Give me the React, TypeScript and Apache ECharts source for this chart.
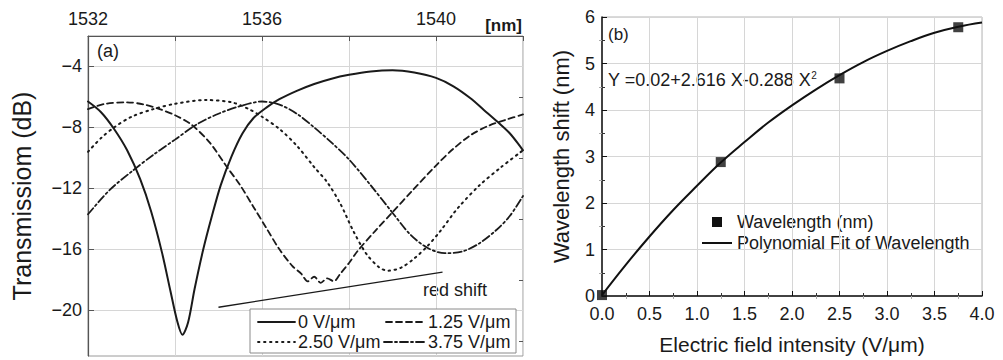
import React, { useEffect, useRef } from "react";
import * as echarts from "echarts";

// Panel (a): transmission spectra for four applied field strengths
const nm0 = [1532.0, 1532.3, 1532.6, 1532.9, 1533.2, 1533.45, 1533.7, 1533.9, 1534.05, 1534.17, 1534.3, 1534.45, 1534.65, 1534.85, 1535.05, 1535.3, 1535.55, 1535.8, 1536.1, 1536.4, 1536.8, 1537.2, 1537.6, 1538.0, 1538.5, 1539.0, 1539.5, 1540.0, 1540.4, 1540.8, 1541.1, 1541.4, 1541.7, 1542.0];
const db0 = [-6.3, -7.0, -8.1, -9.5, -11.4, -13.5, -16.2, -18.8, -20.7, -21.6, -20.8, -18.6, -16.0, -13.8, -11.8, -9.9, -8.4, -7.4, -6.7, -6.15, -5.6, -5.15, -4.8, -4.55, -4.33, -4.25, -4.4, -4.75, -5.3, -6.1, -6.85, -7.6, -8.4, -9.5];

const nm125 = [1532.0, 1532.4, 1532.88, 1533.3, 1533.65, 1534.0, 1534.37, 1534.8, 1535.17, 1535.5, 1535.8, 1536.1, 1536.4, 1536.7, 1536.9, 1537.05, 1537.2, 1537.35, 1537.5, 1537.65, 1537.8, 1538.0, 1538.2, 1538.6, 1539.02, 1539.44, 1540.0, 1540.4, 1540.8, 1541.2, 1541.6, 1542.0];
const db125 = [-6.8, -6.45, -6.35, -6.5, -6.8, -7.2, -7.8, -9.0, -10.5, -11.8, -13.2, -14.6, -16.0, -17.1, -17.6, -18.1, -17.8, -18.2, -17.9, -18.1, -17.6, -16.9, -16.1, -14.8, -13.5, -12.2, -10.5, -9.4, -8.5, -7.9, -7.5, -7.15];

const nm250 = [1532.0, 1532.3, 1532.6, 1533.0, 1533.5, 1534.0, 1534.7, 1535.3, 1535.7, 1536.0, 1536.4, 1536.8, 1537.2, 1537.5, 1537.8, 1538.1, 1538.4, 1538.7, 1538.9, 1539.2, 1539.5, 1539.8, 1540.1, 1540.5, 1541.0, 1541.5, 1542.0];
const db250 = [-9.6, -8.7, -8.0, -7.3, -6.8, -6.45, -6.2, -6.35, -6.8, -7.3, -8.1, -9.2, -10.6, -11.6, -13.0, -14.8, -16.3, -17.2, -17.4, -17.2, -16.6, -15.8, -14.8, -13.3, -11.8, -10.6, -9.5];

const nm375 = [1532.0, 1532.5, 1533.0, 1533.5, 1534.0, 1534.5, 1535.0, 1535.5, 1536.0, 1536.4, 1536.8, 1537.2, 1537.6, 1538.0, 1538.5, 1539.0, 1539.4, 1539.8, 1540.2, 1540.6, 1541.0, 1541.4, 1541.7, 1542.0];
const db375 = [-13.7, -12.1, -10.9, -9.8, -8.8, -7.8, -7.1, -6.6, -6.3, -6.5, -7.1, -8.0, -9.0, -10.1, -11.8, -13.6, -15.0, -15.9, -16.25, -16.15, -15.6, -14.7, -13.8, -12.5];

const nmTicks = [1532, 1536, 1540];
const dbMajor = [-20, -16, -12, -8, -4];
const dbMinor = [-22, -18, -14, -10, -6];

// Panel (b): measured shift and its quadratic fit
const fieldPts = [0, 1.25, 2.5, 3.75];
const shiftPts = [0.02, 2.88, 4.68, 5.78];
const fitField = [0, 0.25, 0.5, 0.75, 1, 1.25, 1.5, 1.75, 2, 2.25, 2.5, 2.75, 3, 3.25, 3.5, 3.75, 4];
const fitShift = [0.02, 0.67, 1.28, 1.85, 2.37, 2.87, 3.31, 3.73, 4.1, 4.44, 4.75, 5.03, 5.27, 5.48, 5.66, 5.79, 5.88];

const FONT = "'Liberation Sans', Arial, sans-serif";
const INK = "#1a1a1a";
const GRID = "#d6d6d6";

const DASH = [6, 4];
const DOT = [1.5, 4.5];
const DASH_DOT = [8, 3, 2, 3];

const zip = (a: number[], b: number[]) => a.map((v, i) => [v, b[i]]);

export default function App() {
  const ref = useRef<HTMLDivElement>(null);

  useEffect(() => {
    if (!ref.current) return;
    const chart = echarts.init(ref.current, undefined, { renderer: "svg" });

    const curve = (name: string, data: number[][], type: any, width = 1.8) => ({
      name,
      type: "line",
      xAxisIndex: 0,
      yAxisIndex: 0,
      data,
      smooth: 0.3,
      showSymbol: false,
      symbol: "none",
      lineStyle: { color: INK, width, type, cap: "round" },
    });

    const legendRow = (y: number, items: { x1: number; x2: number; dash: any; text: string; tx: number }[]) =>
      items.flatMap((it) => [
        {
          type: "line",
          z: 12,
          shape: { x1: it.x1, y1: y, x2: it.x2, y2: y },
          style: { stroke: INK, lineWidth: 1.8, lineDash: it.dash, lineCap: "round" },
        },
        {
          type: "text",
          z: 12,
          x: it.tx,
          y,
          style: { text: it.text, font: `18px ${FONT}`, fill: INK, textVerticalAlign: "middle" },
        },
      ]);

    chart.setOption({
      animation: false,
      backgroundColor: "#ffffff",
      textStyle: { fontFamily: FONT },
      grid: [
        { left: 88, top: 36, width: 435, height: 320, show: true, borderColor: "#9a9a9a", borderWidth: 1 },
        { left: 602, top: 17, width: 380, height: 283, show: true, borderColor: "#b5b5b5", borderWidth: 1 },
      ],
      xAxis: [
        {
          type: "value",
          gridIndex: 0,
          position: "top",
          min: 1532,
          max: 1542,
          interval: 2,
          axisLine: { show: true, lineStyle: { color: "#555", width: 1.2 } },
          axisTick: { show: true, inside: true, length: 5, lineStyle: { color: "#555" } },
          axisLabel: {
            color: INK,
            fontSize: 18,
            margin: 8,
            formatter: (v: number) => (nmTicks.includes(v) ? String(v) : ""),
          },
          splitLine: { show: true, lineStyle: { color: GRID, width: 1 } },
        },
        {
          type: "value",
          gridIndex: 1,
          position: "bottom",
          min: 0,
          max: 4,
          interval: 0.5,
          axisLine: { show: true, lineStyle: { color: "#111", width: 1.5 } },
          axisTick: { show: true, inside: true, length: 5, lineStyle: { color: "#111" } },
          minorTick: { show: true, splitNumber: 2, length: 3, lineStyle: { color: "#333" } },
          axisLabel: { color: INK, fontSize: 18, margin: 9, formatter: (v: number) => v.toFixed(1) },
          splitLine: { show: true, lineStyle: { color: GRID, width: 1 } },
          name: "Electric field intensity (V/\u03bcm)",
          nameLocation: "middle",
          nameGap: 38,
          nameTextStyle: { color: INK, fontSize: 21, fontFamily: FONT },
        },
        {
          type: "value",
          gridIndex: 1,
          position: "top",
          min: 0,
          max: 4,
          axisLine: { show: false },
          axisTick: {
            show: true,
            inside: true,
            length: 3,
            customValues: [0.25, 0.75, 1.25, 1.75, 2.25, 2.75, 3.25, 3.75],
            lineStyle: { color: "#aaa" },
          },
          axisLabel: { show: false },
          splitLine: { show: false },
        },
      ],
      yAxis: [
        {
          type: "value",
          gridIndex: 0,
          min: -23,
          max: -2,
          axisLine: { show: true, lineStyle: { color: "#555", width: 1.2 } },
          axisTick: { show: true, inside: true, length: 6, customValues: dbMajor, lineStyle: { color: "#555" } },
          axisLabel: {
            color: INK,
            fontSize: 18,
            margin: 6,
            customValues: dbMajor,
            formatter: (v: number) => String(v).replace("-", "\u2212"),
          },
          splitLine: { show: true, lineStyle: { color: GRID, width: 1 } },
          name: "Transmissiom (dB)",
          nameLocation: "middle",
          nameGap: 54,
          nameTextStyle: { color: INK, fontSize: 25, fontFamily: FONT },
        },
        {
          type: "value",
          gridIndex: 0,
          min: -23,
          max: -2,
          axisLine: { show: false },
          axisTick: { show: true, inside: true, length: 4, customValues: dbMinor, lineStyle: { color: "#555" } },
          axisLabel: { show: false },
          splitLine: { show: false },
        },
        {
          type: "value",
          gridIndex: 1,
          min: 0,
          max: 6,
          interval: 1,
          axisLine: { show: true, lineStyle: { color: "#111", width: 1.5 } },
          axisTick: { show: true, inside: true, length: 5, lineStyle: { color: "#111" } },
          minorTick: { show: true, splitNumber: 2, length: 3, lineStyle: { color: "#333" } },
          axisLabel: { color: INK, fontSize: 18, margin: 7 },
          splitLine: { show: true, lineStyle: { color: GRID, width: 1 } },
          name: "Wavelength shift (nm)",
          nameLocation: "middle",
          nameGap: 30,
          nameTextStyle: { color: INK, fontSize: 22, fontFamily: FONT },
        },
        {
          type: "value",
          gridIndex: 1,
          position: "right",
          min: 0,
          max: 6,
          axisLine: { show: false },
          axisTick: {
            show: true,
            inside: true,
            length: 3,
            customValues: [0.5, 1.5, 2.5, 3.5, 4.5, 5.5],
            lineStyle: { color: "#aaa" },
          },
          axisLabel: { show: false },
          splitLine: { show: false },
        },
      ],
      series: [
        curve("0 V/\u03bcm", zip(nm0, db0), "solid", 2),
        curve("1.25 V/\u03bcm", zip(nm125, db125), DASH),
        curve("2.50 V/\u03bcm", zip(nm250, db250), DOT, 2),
        {
          ...curve("3.75 V/\u03bcm", zip(nm375, db375), DASH_DOT),
          markLine: {
            silent: true,
            symbol: ["none", "arrow"],
            symbolSize: [0, 10],
            label: { show: false },
            lineStyle: { color: INK, width: 1.3, type: "solid" },
            data: [[{ coord: [1535.0, -19.8] }, { coord: [1540.15, -17.5] }]],
          },
        },
        {
          name: "Polynomial Fit of Wavelength",
          type: "line",
          xAxisIndex: 1,
          yAxisIndex: 2,
          data: zip(fitField, fitShift),
          smooth: 0.4,
          showSymbol: false,
          symbol: "none",
          lineStyle: { color: "#111", width: 2 },
        },
        {
          name: "Wavelength (nm)",
          type: "scatter",
          xAxisIndex: 1,
          yAxisIndex: 2,
          data: zip(fieldPts, shiftPts),
          symbol: "rect",
          symbolSize: 10,
          itemStyle: { color: "#111" },
          z: 5,
        },
      ],
      graphic: [
        { type: "text", x: 522, y: 25, style: { text: "[nm]", font: `bold 17px ${FONT}`, fill: INK, textAlign: "right", textVerticalAlign: "middle" } },
        { type: "text", x: 97, y: 51, style: { text: "(a)", font: `18px ${FONT}`, fill: INK, textVerticalAlign: "middle" } },
        { type: "text", x: 423, y: 290, style: { text: "red shift", font: `18px ${FONT}`, fill: INK, textVerticalAlign: "middle" } },
        {
          type: "rect",
          z: 10,
          shape: { x: 250, y: 309, width: 266, height: 44 },
          style: { fill: "#ffffff", stroke: "#8a8a8a", lineWidth: 1 },
        },
        ...legendRow(322, [
          { x1: 258, x2: 295, dash: null, text: "0 V/\u03bcm", tx: 298 },
          { x1: 386, x2: 424, dash: DASH, text: "1.25 V/\u03bcm", tx: 428 },
        ]),
        ...legendRow(342, [
          { x1: 258, x2: 295, dash: DOT, text: "2.50 V/\u03bcm", tx: 298 },
          { x1: 384, x2: 425, dash: DASH_DOT, text: "3.75 V/\u03bcm", tx: 428 },
        ]),
        { type: "text", x: 608, y: 34, style: { text: "(b)", font: `17px ${FONT}`, fill: INK, textVerticalAlign: "middle" } },
        {
          type: "text",
          x: 608,
          y: 80,
          style: {
            text: "Y =0.02+2.616 X-0.288 X{s|2}",
            font: `18px ${FONT}`,
            fill: INK,
            textVerticalAlign: "middle",
            rich: { s: { fontSize: 10, verticalAlign: "top", padding: [0, 0, 10, 0], fontFamily: FONT, fill: INK } },
          },
        },
        { type: "rect", shape: { x: 712, y: 217, width: 10, height: 10 }, style: { fill: "#111" } },
        { type: "text", x: 737, y: 222, style: { text: "Wavelength (nm)", font: `18px ${FONT}`, fill: INK, textVerticalAlign: "middle" } },
        { type: "line", shape: { x1: 702, y1: 243, x2: 732, y2: 243 }, style: { stroke: "#111", lineWidth: 2 } },
        { type: "text", x: 737, y: 243, style: { text: "Polynomial Fit of Wavelength", font: `18px ${FONT}`, fill: INK, textVerticalAlign: "middle" } },
      ],
    });

    return () => chart.dispose();
  }, []);

  return <div ref={ref} style={{ position: "absolute", left: 0, top: 0, width: 1003, height: 360 }} />;
}
